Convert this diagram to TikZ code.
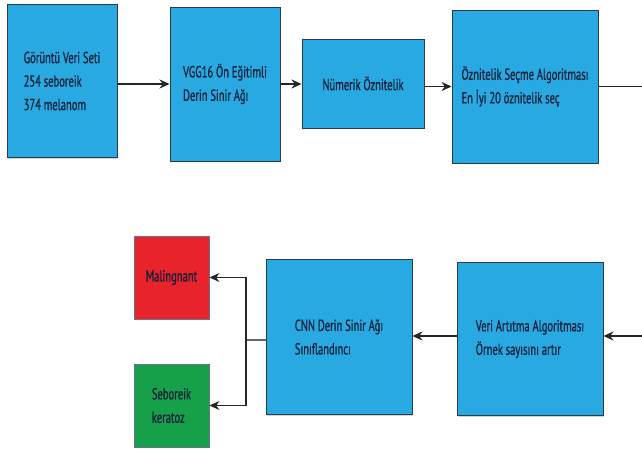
\documentclass[tikz,border=0pt]{standalone}
\usepackage{fontspec}
\setmainfont{PT Sans}[FakeStretch=0.66, FakeBold=0.8]
\usepackage{tikz}
\usetikzlibrary{arrows.meta, shadows}
\definecolor{kutumavi}{HTML}{29A9E1}
\definecolor{kutukirmizi}{HTML}{E9232B}
\definecolor{kutuyesil}{HTML}{16A04A}
\definecolor{kenar}{HTML}{2B3A4F}
\definecolor{yazi}{HTML}{13213A}
\tikzset{
  kutu/.style = {draw=kenar, line width=0.9pt, fill=kutumavi,
    inner sep=0pt, align=left, text=yazi, font=\fontsize{16}{23.5}\selectfont,
    drop shadow={shadow xshift=0.6pt, shadow yshift=-1.2pt, opacity=0.35}},
  sonuc/.style = {kutu, draw=kenar!70},
  ok/.style = {draw=black!85, line width=1.5pt,
    -{Stealth[length=10pt, width=9pt]}},
  kol/.style = {draw=black!60, line width=1.1pt}
}
\begin{document}
\begin{tikzpicture}[x=1pt, y=-1pt]
\useasboundingbox (0,0) rectangle (642,453);
\clip (0,0) rectangle (642,453);
\fill[white] (0,0) rectangle (642,453);
% ust sira
\node [kutu, minimum width=110pt, minimum height=153pt] (veri) at (62,81)
  {G\"or\"unt\"u Veri Seti\\254 seboreik\\374 melanom};
\node [kutu, minimum width=110pt, minimum height=154pt] (vgg) at (225,84)
  {VGG16 \"On E\u{g}itimli\\Derin Sinir A\u{g}\i};
\node [kutu, minimum width=122pt, minimum height=89pt] (numerik) at (363,83.5)
  {N\"umerik \"Oznitelik};
\node [kutu, minimum width=146pt, minimum height=153pt] (secim) at (525,86.5)
  {\"Oznitelik Se\c{c}me Algoritmas\i\\En \.Iyi 20 \"oznitelik se\c{c}};
% alt sira
\node [kutu, minimum width=146pt, minimum height=153pt] (artir) at (530,339)
  {Veri Art\i tma Algoritmas\i\\\"Ornek say\i s\i n\i{} art\i r};
\node [kutu, minimum width=146pt, minimum height=155pt] (cnn) at (339,337)
  {CNN Derin Sinir A\u{g}\i\\S\i n\i fland\i nc\i};
\node [sonuc, fill=kutukirmizi, minimum width=75pt, minimum height=83pt] (malign) at (171.5,277.5)
  {Malingnant};
\node [sonuc, fill=kutuyesil, minimum width=75pt, minimum height=83pt] (sebo) at (171.5,405.5)
  {Seboreik\\keratoz};
\coordinate (kavsak) at (246,340);
% baglantilar
\draw [ok] (veri.east |- vgg.west) -- (vgg.west);
\draw [ok] (vgg.east) -- (vgg.east -| numerik.west);
\draw [ok] (numerik.east |- secim.west) -- (secim.west);
\draw [ok] (secim.east) -- ++(64,0) |- ([yshift=3pt]artir.east);
\draw [ok] ([yshift=3pt]artir.west) -- ([yshift=3pt]artir.west -| cnn.east);
\draw [kol] (cnn.west |- kavsak) -- (kavsak);
\draw [ok, line width=1.2pt] (kavsak) |- (malign.east);
\draw [ok, line width=1.2pt] (kavsak) |- (sebo.east);
\end{tikzpicture}
\end{document}
